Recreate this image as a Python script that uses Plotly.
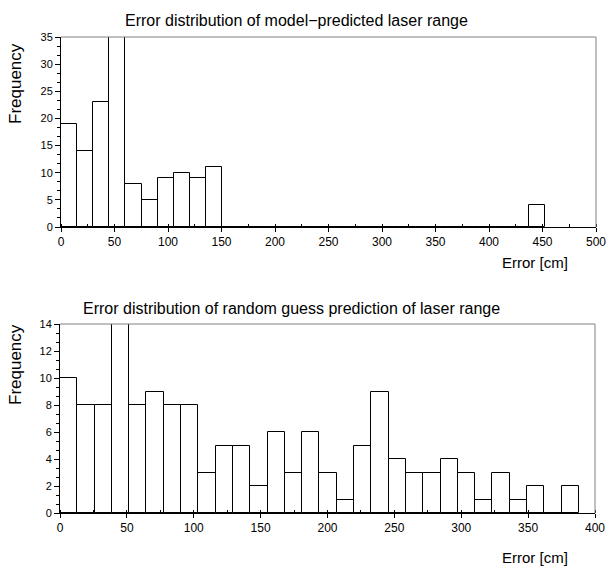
import plotly.graph_objects as go

# ---- data ----
top_counts = [19, 14, 23, 35, 8, 5, 9, 10, 9, 11,
              0, 0, 0, 0, 0, 0, 0, 0, 0, 0,
              0, 0, 0, 0, 0, 0, 0, 0, 0, 4]
top_max_error = 452.0      # upper edge of last bin [cm]
bottom_counts = [10, 8, 8, 14, 8, 9, 8, 8, 3, 5,
                 5, 2, 6, 3, 6, 3, 1, 5, 9, 4,
                 3, 3, 4, 3, 1, 3, 1, 2, 0, 2]
bottom_max_error = 388.0   # upper edge of last bin [cm]

top_title = "Error distribution of model\u2212predicted laser range"
bottom_title = "Error distribution of random guess prediction of laser range"
x_title = "Error [cm]"
y_title = "Frequency"

W, H = 606, 572
FONT = "Liberation Sans, Arial, Helvetica, sans-serif"


def edges(counts, vmax):
    n = len(counts)
    w = vmax / n
    return [i * w for i in range(n)], w


fig = go.Figure()

tx, tw = edges(top_counts, top_max_error)
bx, bw = edges(bottom_counts, bottom_max_error)

bar_style = dict(marker=dict(color="white", line=dict(color="black", width=1)),
                 showlegend=False, hoverinfo="x+y")
fig.add_trace(go.Bar(x=tx, y=top_counts, width=tw, offset=0,
                     xaxis="x", yaxis="y", **bar_style))
fig.add_trace(go.Bar(x=bx, y=bottom_counts, width=bw, offset=0,
                     xaxis="x2", yaxis="y2", **bar_style))


def px_x(p):
    return p / W


def px_y(p):
    return 1 - p / H


xtickfont = dict(family=FONT, size=12, color="black")
ytickfont = dict(family=FONT, size=11, color="black")
common_x = dict(showgrid=False, zeroline=False, showline=True, linecolor="black",
                linewidth=1, ticks="outside", ticklen=4, tickcolor="black",
                tickfont=xtickfont, dtick=50, tick0=0, automargin=False,
                ticklabeloverflow="allow",
                minor=dict(ticks="inside", dtick=25, ticklen=3, tickcolor="black"))
common_y = dict(showgrid=False, zeroline=False, showline=True, linecolor="black",
                linewidth=1, ticks="outside", ticklen=5, tickcolor="black",
                tickfont=ytickfont, tick0=0, automargin=False,
                ticklabeloverflow="allow")

fig.update_layout(
    width=W, height=H,
    margin=dict(l=0, r=0, t=0, b=0, autoexpand=False),
    paper_bgcolor="white", plot_bgcolor="white",
    bargap=0,
    xaxis=dict(domain=[px_x(61), px_x(596)], range=[0, 500], anchor="y", **common_x),
    yaxis=dict(domain=[px_y(227), px_y(37)], range=[0, 35], anchor="x", dtick=5,
               minor=dict(ticks="outside", dtick=5 / 3, ticklen=3, tickcolor="black"),
               **common_y),
    xaxis2=dict(domain=[px_x(60), px_x(595)], range=[0, 400], anchor="y2", **common_x),
    yaxis2=dict(domain=[px_y(513), px_y(324)], range=[0, 14], anchor="x2", dtick=2,
                minor=dict(ticks="outside", dtick=2 / 3, ticklen=3, tickcolor="black"),
                **common_y),
)

# gray frame on top and right
for xa, ya in (("x", "y"), ("x2", "y2")):
    fig.add_shape(type="line", xref=f"{xa} domain", yref=f"{ya} domain",
                  x0=0, x1=1, y0=1, y1=1, line=dict(color="#808080", width=1))
    fig.add_shape(type="line", xref=f"{xa} domain", yref=f"{ya} domain",
                  x0=1, x1=1, y0=0, y1=1, line=dict(color="#808080", width=1))

ann = [
    dict(text=top_title, x=px_x(296), y=px_y(20), size=16),
    dict(text=bottom_title, x=px_x(291), y=px_y(308), size=16),
    dict(text=x_title, x=px_x(535), y=px_y(262), size=15),
    dict(text=x_title, x=px_x(535), y=px_y(557), size=15),
    dict(text=y_title, x=px_x(15), y=px_y(84), size=17, textangle=-90),
    dict(text=y_title, x=px_x(15), y=px_y(365), size=17, textangle=-90),
]
for a in ann:
    size = a.pop("size")
    fig.add_annotation(xref="paper", yref="paper", showarrow=False,
                       xanchor="center", yanchor="middle",
                       font=dict(family=FONT, size=size, color="black"), **a)

fix_page = """
document.documentElement.style.margin = '0';
document.documentElement.style.padding = '0';
document.documentElement.style.overflow = 'hidden';
document.body.style.margin = '0';
document.body.style.padding = '0';
document.body.style.overflow = 'hidden';
"""
fig.write_html("out.html", post_script=fix_page, config={"displayModeBar": False})
